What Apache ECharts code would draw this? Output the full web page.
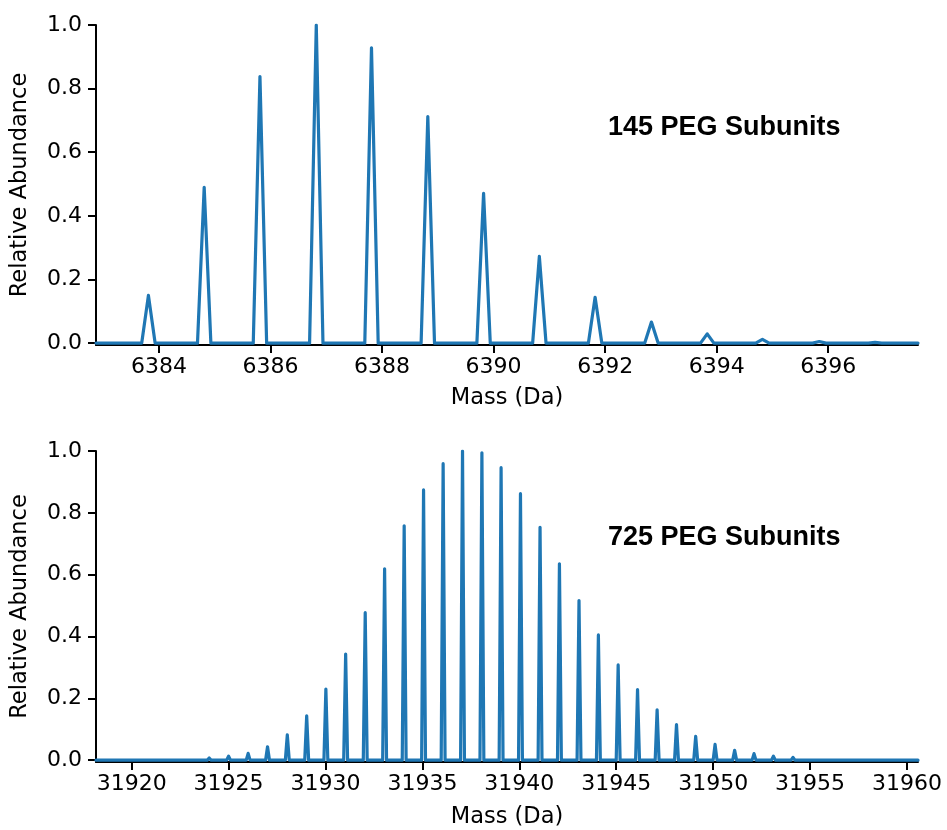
<!DOCTYPE html>
<html>
<head>
<meta charset="utf-8">
<script src="https://cdn.jsdelivr.net/npm/echarts@6/dist/echarts.min.js"></script>
<style>html,body{margin:0;padding:0;background:#fff;}#c{width:947px;height:830px;}</style>
</head>
<body>
<div id="c"></div>
<script>
// ---- data ----
const topPeakMass = [6383.81, 6384.81, 6385.81, 6386.82, 6387.81, 6388.82, 6389.82, 6390.82, 6391.82, 6392.83, 6393.83, 6394.82, 6395.84, 6396.84];
const topPeakAbundance = [0.150, 0.490, 0.838, 1.000, 0.928, 0.712, 0.471, 0.273, 0.144, 0.066, 0.029, 0.012, 0.005, 0.002];
const bottomPeakMass = [31922.00, 31923.00, 31924.00, 31925.00, 31926.01, 31927.01, 31928.03, 31929.03, 31930.02, 31931.04, 31932.05, 31933.05, 31934.06, 31935.06, 31936.07, 31937.07, 31938.07, 31939.06, 31940.06, 31941.07, 31942.07, 31943.08, 31944.08, 31945.10, 31946.10, 31947.11, 31948.11, 31949.10, 31950.10, 31951.11, 31952.11, 31953.11, 31954.12, 31955.12, 31956.13, 31957.13, 31958.13];
const bottomPeakAbundance = [0.001, 0.003, 0.007, 0.013, 0.022, 0.043, 0.082, 0.143, 0.230, 0.343, 0.477, 0.619, 0.758, 0.874, 0.959, 1.000, 0.994, 0.946, 0.862, 0.753, 0.635, 0.516, 0.405, 0.308, 0.228, 0.163, 0.115, 0.077, 0.051, 0.032, 0.021, 0.013, 0.009, 0.005, 0.003, 0.002, 0.001];
const topTicks = [6384, 6386, 6388, 6390, 6392, 6394, 6396];
const bottomTicks = [31920, 31925, 31930, 31935, 31940, 31945, 31950, 31955, 31960];
const yTicks = [0, 0.2, 0.4, 0.6, 0.8, 1.0];
const topRange = [6382.87, 6397.61];
const bottomRange = [31918.16, 31960.57];
const yRange = [-0.006, 1.0];
const topLabel = '145 PEG Subunits';
const bottomLabel = '725 PEG Subunits';

// build line profile (baseline + each peak apex) for the library
function profile(mass, ab, range, hw) {
  const d = [[range[0], 0]];
  for (let i = 0; i < mass.length; i++) {
    d.push([mass[i] - hw, 0]);
    d.push([mass[i], ab[i]]);
    d.push([mass[i] + hw, 0]);
  }
  d.push([range[1], 0]);
  return d;
}

const TXT = '#000';
const FONT = 'DejaVu Sans';
function xAx(idx, range, ticks, gap) {
  return {
    gridIndex: idx, type: 'value', min: range[0], max: range[1],
    axisLine: {show: true, onZero: false, lineStyle: {color: '#000', width: 2}},
    axisTick: {show: true, customValues: ticks, length: 8, lineStyle: {color: '#000', width: 2}},
    axisLabel: {customValues: ticks, color: TXT, fontSize: 22, fontFamily: FONT, margin: 11,
      formatter: v => String(v)},
    splitLine: {show: false},
    name: 'Mass (Da)', nameLocation: 'middle', nameGap: gap,
    nameTextStyle: {color: TXT, fontSize: 22.5, fontFamily: FONT}
  };
}
function yAx(idx) {
  return {
    gridIndex: idx, type: 'value', min: yRange[0], max: yRange[1],
    axisLine: {show: true, onZero: false, lineStyle: {color: '#000', width: 2}},
    axisTick: {show: true, customValues: yTicks, length: 8, lineStyle: {color: '#000', width: 2}},
    axisLabel: {customValues: yTicks, color: TXT, fontSize: 22, fontFamily: FONT, margin: 14,
      formatter: v => v.toFixed(1)},
    splitLine: {show: false},
    name: 'Relative Abundance', nameLocation: 'middle', nameGap: 64, nameRotate: 90,
    nameTextStyle: {color: TXT, fontSize: 22.5, fontFamily: FONT}
  };
}
const lineStyle = {color: '#1f77b4', width: 3.2, join: 'round', cap: 'round'};

const chart = echarts.init(document.getElementById('c'), null, {renderer: 'canvas'});
chart.setOption({
  animation: false,
  backgroundColor: '#fff',
  grid: [
    {left: 96, right: 29, top: 25, height: 320},
    {left: 96, right: 29, top: 451, height: 311}
  ],
  xAxis: [xAx(0, topRange, topTicks, 42), xAx(1, bottomRange, bottomTicks, 44)],
  yAxis: [yAx(0), yAx(1)],
  series: [
    {type: 'line', xAxisIndex: 0, yAxisIndex: 0, showSymbol: false, data: profile(topPeakMass, topPeakAbundance, topRange, 0.12), lineStyle: lineStyle, itemStyle: {color: '#1f77b4'}},
    {type: 'line', xAxisIndex: 1, yAxisIndex: 1, showSymbol: false, data: profile(bottomPeakMass, bottomPeakAbundance, bottomRange, 0.1), lineStyle: lineStyle, itemStyle: {color: '#1f77b4'}}
  ],
  graphic: [
    {type: 'text', left: 608, top: 114, style: {text: topLabel, font: 'bold 27px "Liberation Sans", Arial, sans-serif', fill: '#000'}},
    {type: 'text', left: 608, top: 524, style: {text: bottomLabel, font: 'bold 27px "Liberation Sans", Arial, sans-serif', fill: '#000'}}
  ]
});
</script>
</body>
</html>
